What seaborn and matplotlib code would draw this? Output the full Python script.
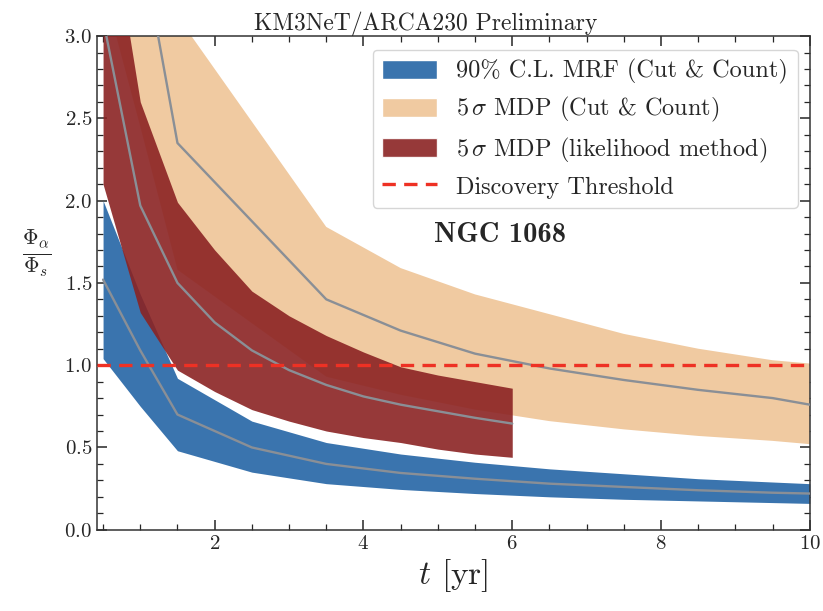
import matplotlib
matplotlib.use("Agg")
import matplotlib.pyplot as plt
from matplotlib.patches import Patch
from matplotlib.lines import Line2D
from matplotlib.ticker import MultipleLocator
import seaborn as sns
import pandas as pd

# 90% C.L. MRF (Cut & Count)
mrf_t = [0.5, 1.0, 1.5, 2.5, 3.5, 4.5, 5.5, 6.5, 7.5, 8.5, 9.5, 10.0]
mrf_mid = [1.52, 1.09, 0.70, 0.50, 0.40, 0.345, 0.31, 0.28, 0.26, 0.24, 0.225, 0.22]
mrf_hi = [2.00, 1.43, 0.92, 0.66, 0.53, 0.46, 0.41, 0.37, 0.34, 0.31, 0.29, 0.28]
mrf_lo = [1.04, 0.75, 0.48, 0.35, 0.28, 0.245, 0.22, 0.20, 0.185, 0.175, 0.165, 0.16]

# 5 sigma MDP (Cut & Count)
cc_t = [0.5, 1.0, 1.5, 3.5, 4.5, 5.5, 6.5, 7.5, 8.5, 9.5, 10.0]
cc_mid = [5.0, 3.6, 2.35, 1.40, 1.21, 1.07, 0.98, 0.91, 0.85, 0.80, 0.76]
cc_hi = [6.5, 4.5, 3.12, 1.84, 1.59, 1.43, 1.31, 1.19, 1.10, 1.03, 1.01]
cc_lo = [3.3, 2.45, 1.58, 0.93, 0.82, 0.73, 0.66, 0.61, 0.57, 0.54, 0.52]

# 5 sigma MDP (likelihood method)
lh_t = [0.5, 1.0, 1.5, 2.0, 2.5, 3.0, 3.5, 4.0, 4.5, 5.0, 5.5, 6.0]
lh_mid = [3.1, 1.97, 1.50, 1.26, 1.09, 0.97, 0.88, 0.81, 0.76, 0.72, 0.68, 0.645]
lh_hi = [4.0, 2.60, 1.99, 1.70, 1.45, 1.30, 1.18, 1.08, 0.99, 0.94, 0.90, 0.86]
lh_lo = [2.1, 1.32, 0.97, 0.84, 0.73, 0.66, 0.60, 0.56, 0.53, 0.49, 0.46, 0.44]

threshold = 1.0

c_blue = "#3a74ae"
c_tan = "#f0caa1"
c_red = "#8b2323"
c_grey = "#8a8f96"
c_thr = "#ee3124"

sns.set_style("ticks")
plt.rcParams["font.family"] = ["cmr10", "DejaVu Serif"]
plt.rcParams["mathtext.fontset"] = "cm"
plt.rcParams["axes.formatter.use_mathtext"] = True

fig = plt.figure(figsize=(8.23, 6.11), dpi=100)
ax = fig.add_axes([0.118, 0.133, 0.866, 0.808])

ax.fill_between(cc_t, cc_lo, cc_hi, color=c_tan, lw=0, zorder=1)
ax.fill_between(mrf_t, mrf_lo, mrf_hi, color=c_blue, lw=0, zorder=2)
ax.fill_between(lh_t, lh_lo, lh_hi, color=c_red, alpha=0.9, lw=0, zorder=3)

medians = pd.concat([
    pd.DataFrame({"t": mrf_t, "v": mrf_mid, "s": "mrf"}),
    pd.DataFrame({"t": cc_t, "v": cc_mid, "s": "cc"}),
    pd.DataFrame({"t": lh_t, "v": lh_mid, "s": "lh"}),
])
sns.lineplot(data=medians, x="t", y="v", units="s", estimator=None,
             color=c_grey, lw=1.7, ax=ax, zorder=4, legend=False)

ax.axhline(threshold, color=c_thr, ls=(0, (4, 2.5)), lw=2.4, zorder=5)

ax.set_xlim(0.42, 10)
ax.set_ylim(0, 3)
ax.xaxis.set_major_locator(MultipleLocator(2))
ax.xaxis.set_minor_locator(MultipleLocator(0.5))
ax.yaxis.set_major_locator(MultipleLocator(0.5))
ax.yaxis.set_minor_locator(MultipleLocator(0.1))
ax.tick_params(which="both", direction="in", top=True, right=True, labelsize=15)
ax.tick_params(which="major", length=7, width=1.1)
ax.tick_params(which="minor", length=4, width=0.9)
for sp in ax.spines.values():
    sp.set_linewidth(1.1)
    sp.set_color("#333333")

ax.set_xlabel(r"$t$ [yr]", fontsize=24, labelpad=3)
ax.set_ylabel(r"$\frac{\Phi_\alpha}{\Phi_s}$", fontsize=22, rotation=0, va="center")
ax.yaxis.set_label_coords(-0.085, 0.56)
ax.set_title("KM3NeT/ARCA230 Preliminary", fontsize=17, pad=2, x=0.461)

ax.text(5.84, 1.79, "NGC 1068", family="cmb10", fontsize=20.5,
        ha="center", va="center", zorder=6)

handles = [
    Patch(facecolor=c_blue, label="90% C.L. MRF (Cut & Count)"),
    Patch(facecolor=c_tan, label=r"$5\,\sigma$ MDP (Cut & Count)"),
    Patch(facecolor=c_red, alpha=0.9, label=r"$5\,\sigma$ MDP (likelihood method)"),
    Line2D([], [], color=c_thr, ls=(0, (4, 2.5)), lw=2.4, label="Discovery Threshold"),
]
leg = ax.legend(handles=handles, loc="upper right", fontsize=17.5,
                handlelength=2.25, handleheight=0.85, borderpad=0.4,
                labelspacing=0.45, handletextpad=0.8, borderaxespad=0.25,
                frameon=True, fancybox=True, bbox_to_anchor=(0.992, 0.985))
leg.get_frame().set_edgecolor("#cccccc")
leg.set_zorder(7)

fig.savefig("out.png", dpi=100)
